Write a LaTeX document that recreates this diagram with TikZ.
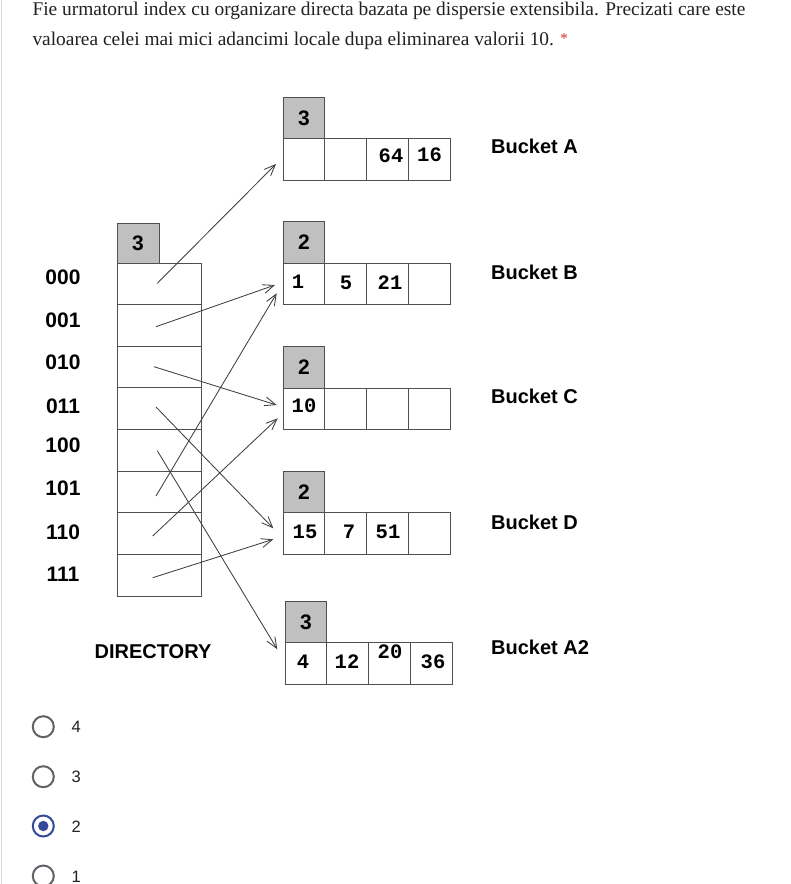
\documentclass[tikz,border=0pt]{standalone}
\usepackage{fontspec}
\setmainfont{Liberation Serif}
\setsansfont{Liberation Sans}
\setmonofont{Liberation Mono}
\usetikzlibrary{arrows.meta}
\definecolor{boxline}{HTML}{505050}
\definecolor{hdrgray}{HTML}{C0C0C0}
\definecolor{arrowgray}{HTML}{404040}
\definecolor{formtext}{HTML}{202124}
\definecolor{radiogray}{HTML}{5F6368}
\definecolor{radioblue}{HTML}{34499A}
\definecolor{reqred}{HTML}{D93025}
\definecolor{sideline}{HTML}{DADCE0}
\begin{document}
\begin{tikzpicture}[x=1pt,y=-1pt,
  cell/.style={draw=boxline, line width=0.9pt, minimum width=41.7pt, minimum height=41.7pt, inner sep=0pt, outer sep=0pt},
  hdr/.style={cell, fill=hdrgray, font=\sffamily\bfseries\fontsize{21}{21}\selectfont},
  dircell/.style={draw=boxline, line width=0.9pt, minimum width=84pt, minimum height=41.6pt, inner sep=0pt, outer sep=0pt},
  num/.style={font=\ttfamily\bfseries\fontsize{20.5}{20.5}\selectfont, inner sep=0pt},
  lbl/.style={font=\sffamily\bfseries\fontsize{21}{21}\selectfont, inner sep=0pt},
  blbl/.style={font=\sffamily\bfseries\fontsize{20}{20}\selectfont, anchor=west, inner sep=0pt},
  ptr/.style={draw=arrowgray, line width=0.85pt, -{Straight Barb[length=11pt,width=9pt]}},
  qtext/.style={font=\fontsize{19.4}{22}\selectfont, text=formtext, anchor=base west, inner sep=0pt},
  radio/.style={circle, draw=radiogray, line width=2pt, minimum size=21pt, inner sep=0pt},
  opt/.style={font=\sffamily\fontsize{16.5}{16.5}\selectfont, text=formtext, anchor=west, inner sep=0pt},
]
\useasboundingbox[fill=white] (0,0) rectangle (791,884);
\draw[sideline, line width=1.6pt] (1.5,0) -- (1.5,884);

% question text
\node[qtext] (q1) at (32.3,15) {Fie urmatorul index cu organizare directa bazata pe dispersie extensibila. Precizati care este};
\node[qtext] (q2) at (32.3,45) {valoarea celei mai mici adancimi locale dupa eliminarea valorii 10.};
\node[font=\fontsize{15}{15}\selectfont, text=reqred, anchor=base west, inner sep=0pt] (req) at ([xshift=6pt, yshift=2pt]q2.base east) {*};

% directory
\node[hdr, minimum width=42pt, minimum height=40pt] (dh) at (138,243) {3};
\foreach \i in {0,...,7} {
  \node[dircell] (d\i) at (159, 263+41.625*\i+20.8) {};
}
\foreach \t/\y [count=\k from 0] in {000/277, 001/320, 010/362, 011/406, 100/445, 101/488, 110/532, 111/574} {
  \node[lbl] (l\k) at (63,\y) {\t};
}
\node[lbl, font=\sffamily\bfseries\fontsize{20}{20}\selectfont] (dirlbl) at (153,652) {DIRECTORY};

% buckets
\foreach \b/\y/\h/\x in {A/159.5/3/304, B/284/2/304, C/409/2/304, D/533.5/2/304, E/663.5/3/306} {
  \node[hdr] (\b h) at (\x,\y-41.7) {\h};
  \foreach \i in {0,...,3} {
    \node[cell] (\b\i) at (\x+41.7*\i,\y) {};
  }
}
\node[blbl] (bA) at (491,146) {Bucket A};
\node[blbl] (bB) at (491,272) {Bucket B};
\node[blbl] (bC) at (491,396) {Bucket C};
\node[blbl] (bD) at (491,522) {Bucket D};
\node[blbl] (bE) at (491,647) {Bucket A2};

% bucket contents
\node[num] (nA2) at (391,156) {64};
\node[num] (nA3) at (429.5,155) {16};
\node[num] (nB0) at (298,282) {1};
\node[num] (nB1) at (346,283) {5};
\node[num] (nB2) at (390,283) {21};
\node[num] (nC0) at (304,406) {10};
\node[num] (nD0) at (305,532) {15};
\node[num] (nD1) at (349,532) {7};
\node[num] (nD2) at (388,532) {51};
\node[num] (nE0) at (303,662) {4};
\node[num] (nE1) at (347,662) {12};
\node[num] (nE2) at (390,652) {20};
\node[num] (nE3) at (433,662) {36};

% pointer start/end coordinates
\coordinate (s0) at (157.3,283.3); \coordinate (t0) at (276,164);
\coordinate (s1) at (156,326.7);   \coordinate (t1) at (275,285);
\coordinate (s2) at (154,366.7);   \coordinate (t2) at (276.7,405);
\coordinate (s3) at (156,407);     \coordinate (t3) at (273.3,528.3);
\coordinate (s4) at (157.3,450.7); \coordinate (t4) at (277.3,649.3);
\coordinate (s5) at (156,496);     \coordinate (t5) at (276.7,293.3);
\coordinate (s6) at (152.7,536);   \coordinate (t6) at (277.7,418.3);
\coordinate (s7) at (152.7,577.7); \coordinate (t7) at (273.3,539.3);
\foreach \i in {0,...,7} {
  \draw[ptr] (s\i) -- (t\i);
}

% answer options
\node[radio] (r4) at (43.3,726.7) {};
\node[opt] (o4) at (71.5,727) {4};
\node[radio] (r3) at (43.3,776.7) {};
\node[opt] (o3) at (71.5,777) {3};
\node[radio, draw=radioblue] (r2) at (43.3,826) {};
\fill[radioblue] (r2.center) circle (5.2pt);
\node[opt] (o2) at (71.5,826.5) {2};
\node[radio] (r1) at (43.3,876) {};
\node[opt] (o1) at (71.5,876.5) {1};
\end{tikzpicture}
\end{document}
